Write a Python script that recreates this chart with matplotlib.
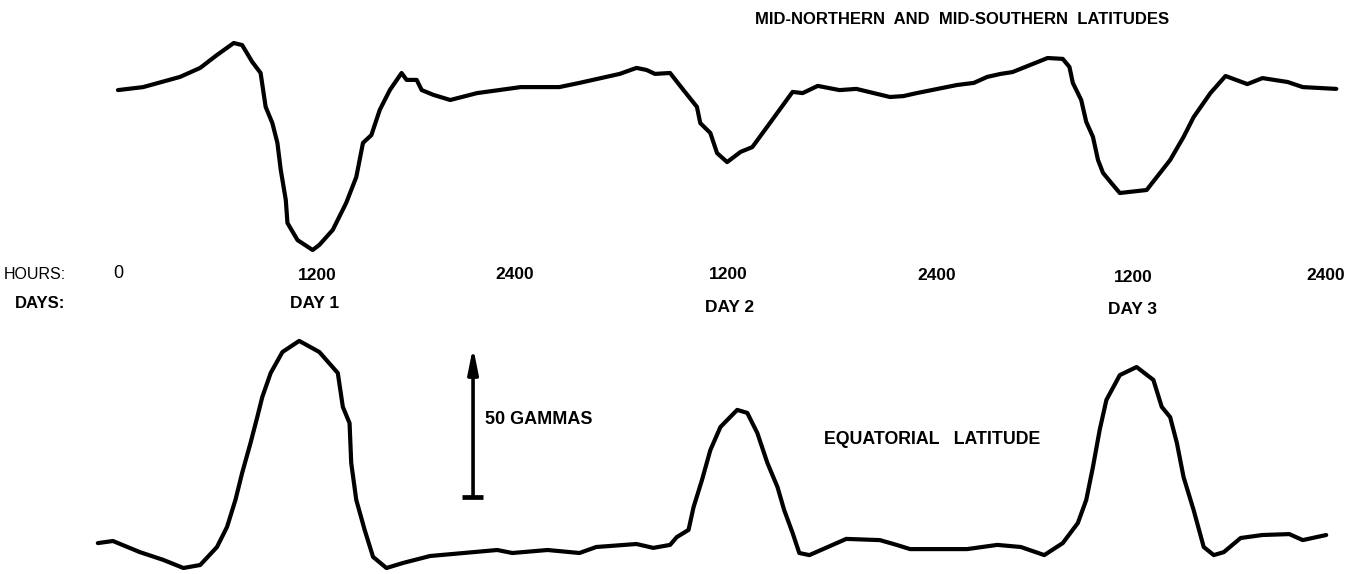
import matplotlib
matplotlib.use("Agg")
import matplotlib.pyplot as plt
from matplotlib import font_manager

# ---------------- data (hours from start, field deviation in gammas) ----------------
mid_hours = [0.0, 1.5, 3.7, 4.9, 5.9, 6.9, 7.4, 8.0, 8.5, 8.8,
             9.2, 9.5, 9.7, 10.0, 10.1, 10.7, 11.6, 12.0, 12.8, 13.6,
             14.2, 14.6, 15.1, 15.6, 16.2, 16.9, 17.2, 17.8, 18.1, 18.8,
             19.8, 21.4, 24.0, 26.3, 27.5, 29.9, 30.9, 31.5, 32.0, 32.9,
             33.7, 34.5, 34.7, 35.3, 35.7, 36.3, 37.1, 37.8, 38.9, 40.2,
             40.8, 41.7, 43.0, 44.0, 46.0, 46.8, 47.6, 50.0, 51.0, 51.8,
             52.6, 53.3, 55.4, 56.3, 56.7, 56.9, 57.4, 57.7, 58.1, 58.4,
             58.7, 59.2, 59.7, 61.3, 62.1, 62.7, 63.5, 64.1, 65.1, 66.0,
             67.3, 68.2, 69.7, 70.6, 72.6]
mid_gammas = [-0.7, 0.3, 3.7, 6.7, 11.0, 15.0, 14.3, 8.7, 5.0, -6.3,
              -11.7, -18.3, -27.3, -37.3, -45.0, -50.7, -54.0, -52.3, -47.3, -38.3,
              -29.7, -18.3, -15.7, -7.3, -0.7, 5.0, 2.7, 2.7, -0.7, -2.3,
              -4.0, -1.7, 0.3, 0.3, 1.7, 4.7, 6.7, 6.0, 4.7, 5.0,
              -0.7, -6.3, -11.7, -15.0, -21.7, -24.7, -21.3, -19.7, -11.3, -1.3,
              -1.7, 0.7, -0.7, -0.3, -3.0, -2.7, -1.7, 1.0, 1.7, 3.7,
              4.7, 5.3, 10.0, 9.7, 7.0, 1.7, -4.0, -11.3, -16.3, -24.0,
              -28.3, -31.7, -35.0, -34.0, -28.3, -24.0, -16.3, -9.7, -1.7, 4.0,
              1.3, 3.3, 2.0, 0.3, -0.3]

eq_hours = [-1.2, -0.3, 1.3, 2.7, 3.9, 4.9, 5.9, 6.5, 7.0, 7.4,
            7.9, 8.3, 8.6, 9.1, 9.8, 10.8, 12.0, 13.1, 13.4, 13.8,
            13.9, 14.2, 14.7, 15.2, 16.0, 17.0, 18.6, 20.6, 22.6, 23.5,
            25.6, 27.5, 28.5, 30.9, 31.9, 32.9, 33.3, 34.0, 34.3, 34.8,
            35.3, 35.9, 36.9, 37.5, 38.1, 38.7, 39.3, 39.7, 40.2, 40.6,
            41.2, 42.3, 43.4, 45.4, 46.4, 47.2, 49.0, 50.6, 52.4, 53.8,
            55.2, 56.3, 57.2, 57.7, 58.1, 58.5, 58.9, 59.7, 60.7, 61.7,
            62.2, 62.7, 63.1, 63.5, 64.1, 64.7, 65.3, 65.9, 66.9, 68.2,
            69.8, 70.6, 72.0]
eq_gammas = [2.3, 3.0, -0.7, -3.3, -6.0, -5.0, 1.0, 7.7, 16.7, 25.7,
             35.7, 44.3, 51.0, 59.0, 66.0, 69.7, 66.0, 59.0, 47.7, 42.3,
             29.0, 16.7, 6.7, -2.3, -6.0, -4.3, -2.0, -1.0, 0.0, -1.0,
             0.0, -1.0, 1.0, 2.0, 0.7, 1.7, 4.3, 6.7, 14.3, 23.3,
             33.3, 41.0, 46.7, 45.7, 39.0, 29.0, 21.0, 13.3, 5.7, -1.0,
             -1.7, 1.0, 3.7, 3.3, 1.7, 0.3, 0.3, 0.3, 1.7, 1.0,
             -1.7, 2.3, 9.0, 16.7, 27.7, 40.0, 50.0, 58.3, 61.0, 56.7,
             47.7, 44.3, 35.7, 24.3, 13.3, 1.0, -1.7, -0.7, 4.0, 5.0,
             5.3, 3.3, 5.0]

hour_labels = ["0", "1200", "2400", "1200", "2400", "1200", "2400"]
day_labels = ["DAY 1", "DAY 2", "DAY 3"]
scale_gammas = 50

# ---------------- layout / style ----------------
W, H = 1368, 574
fig = plt.figure(figsize=(W / 100, H / 100), dpi=100)
fig.patch.set_facecolor("white")

avail = {f.name for f in font_manager.fontManager.ttflist}
narrow = ["Liberation Sans Narrow", "Liberation Sans", "DejaVu Sans"]
narrow = [f for f in narrow if f in avail] or ["DejaVu Sans"]
wide = [f for f in ["Liberation Sans", "DejaVu Sans"] if f in avail]

xlim = (-7.03, 74.49)
ax_top = fig.add_axes([0, 0.5, 1, 0.5])
ax_bot = fig.add_axes([0, 0, 1, 0.5])
for ax in (ax_top, ax_bot):
    ax.set_xlim(*xlim)
    ax.axis("off")
ax_top.set_ylim(-66.33, 29.33)
ax_bot.set_ylim(-8.0, 87.67)

lw = 3.0
ax_top.plot(mid_hours, mid_gammas, color="black", lw=lw, solid_joinstyle="round",
            solid_capstyle="round")
ax_bot.plot(eq_hours, eq_gammas, color="black", lw=lw, solid_joinstyle="round",
            solid_capstyle="round")

# 50 gamma scale arrow (bottom panel, data coordinates)
ax_x = 21.16
base = 17.67
ax_bot.annotate("", xy=(ax_x, base + scale_gammas), xytext=(ax_x, base),
                arrowprops=dict(arrowstyle="-|>,head_length=1.5,head_width=0.3",
                                color="black", lw=2.6, shrinkA=0, shrinkB=0))
ax_bot.plot([ax_x - 0.65, ax_x + 0.6], [base, base], color="black", lw=3.4,
            solid_capstyle="butt")
ax_bot.text(ax_x + 0.72, base + 25.7, f"{scale_gammas} GAMMAS", ha="left", va="center",
            fontsize=13, fontweight="bold", family=wide, color="black")


def ft(px, py, s, **kw):
    fig.text(px / W, 1 - py / H, s, **kw)


ft(962, 20, "MID-NORTHERN  AND  MID-SOUTHERN  LATITUDES", ha="center", va="center",
   fontsize=12, fontweight="bold", family=narrow)
ft(932, 440, "EQUATORIAL   LATITUDE", ha="center", va="center",
   fontsize=12.8, fontweight="bold", family=wide)

ft(35, 275, "HOURS:", ha="center", va="center", fontsize=11.5, family=narrow)
hour_px = [118, 317, 515, 728, 937, 1133, 1326]
hour_py = [273, 276, 274, 275, 276, 278, 276]
for lab, px, py in zip(hour_labels, hour_px, hour_py):
    if lab == "0":
        ft(px, py, lab, ha="center", va="center", fontsize=13, family=narrow)
    else:
        ft(px, py, lab, ha="center", va="center", fontsize=12.5, fontweight="bold",
           family=narrow)

ft(40, 304, "DAYS:", ha="center", va="center", fontsize=12, fontweight="bold",
   family=narrow)
day_px = [315, 730, 1133]
day_py = [304, 307, 309]
for lab, px, py in zip(day_labels, day_px, day_py):
    ft(px, py, lab, ha="center", va="center", fontsize=12.5, fontweight="bold",
       family=narrow)

fig.savefig("out.png", dpi=100, facecolor="white")
